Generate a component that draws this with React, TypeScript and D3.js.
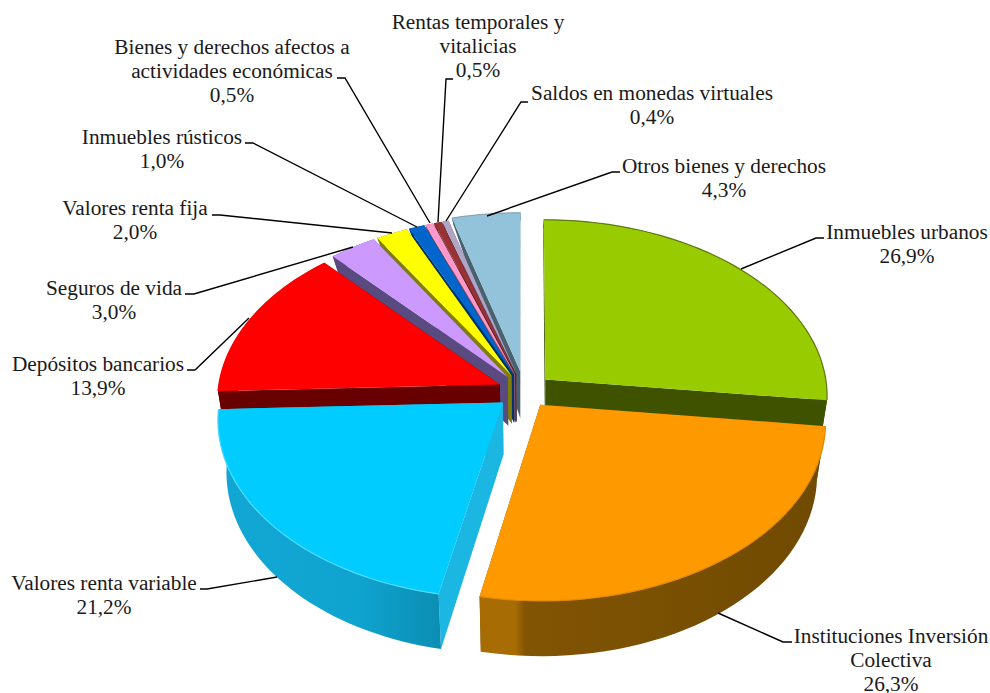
import React from "react";
import * as d3 from "d3";

const categories = [
  "Inmuebles urbanos", "Instituciones Inversión Colectiva", "Valores renta variable",
  "Depósitos bancarios", "Seguros de vida", "Valores renta fija", "Inmuebles rústicos",
  "Bienes y derechos afectos a actividades económicas", "Rentas temporales y vitalicias",
  "Saldos en monedas virtuales", "Otros bienes y derechos",
];
const values = [26.9, 26.3, 21.2, 13.9, 3.0, 2.0, 1.0, 0.5, 0.5, 0.4, 4.3];
const explode = [0.1, 0.095, 0.1, 0.095, 0.1, 0.1, 0.1, 0.1, 0.1, 0.1, 0.115];
const topColors = ["#99cc00", "#ff9900", "#00ccff", "#ff0000", "#cc99ff", "#ffff00", "#0066cc", "#ff99cc", "#993333", "#b0a4c8", "#93c3da"];
const wallColors = ["#3f5200", "#7a5000", "#1cb6e2", "#690000", "#594a80", "#7f7f08", "#00336b", "#80506a", "#4d1a1a", "#585268", "#48626e"];
const labelLines = [
  ["Inmuebles urbanos"], ["Instituciones Inversión", "Colectiva"], ["Valores renta variable"],
  ["Depósitos bancarios"], ["Seguros de vida"], ["Valores renta fija"], ["Inmuebles rústicos"],
  ["Bienes y derechos afectos a", "actividades económicas"], ["Rentas temporales y", "vitalicias"],
  ["Saldos en monedas virtuales"], ["Otros bienes y derechos"],
];

// layout
const W = 990, H = 693;
const CX = 524.5, CY = 391, RX = 282, RY = 176, K = 0.09, SHRINK = 0.972;
const labelPos: [number, number][] = [
  [907, 232], [891, 636], [104, 583], [98, 364], [114, 288], [135, 208], [162, 137], [232, 47], [478, 22], [652, 93], [724, 166],
];
const leaders: [number, number][][] = [
  [[824, 238], [816, 238], [741, 269]],
  [[792, 642], [783, 642], [718, 613]],
  [[200, 589], [207, 589], [277, 577]],
  [[187, 370], [195, 370], [249, 318]],
  [[185, 294], [194, 294], [353, 247]],
  [[212, 215], [220, 215], [392, 233]],
  [[245, 143], [253, 143], [417, 227]],
  [[337, 78], [345, 78], [430, 223]],
  [[453, 79], [446, 79], [438, 222]],
  [[528, 102], [521, 102], [446, 221]],
  [[620, 172], [612, 172], [487, 216]],
];

const fmt = (v: number) => v.toFixed(1).replace(".", ",") + "%";
const depth = (v: number) => (v < 0 ? Math.max(8, 52 + 44 * v) : 52 + 3 * v);
type P = [number, number];
const top = (u: number, v: number): P => {
  const s = 1 / (1 - K * v);
  return [CX + RX * u * s, CY + RY * v * s];
};
const bottom = (u: number, v: number): P => {
  const [x, y] = top(u, v);
  return [CX + (x - CX) * SHRINK, y + depth(v)];
};
const line = d3.line<P>();

const slices = d3.pie<number>().sort(null).value((d) => d)(values).map((a, i) => {
  const mid = (a.startAngle + a.endAngle) / 2;
  const ou = explode[i] * Math.sin(mid), ov = -explode[i] * Math.cos(mid);
  const steps = d3.range(0, 41).map((j) => a.startAngle + ((a.endAngle - a.startAngle) * j) / 40);
  const rim: P[] = steps.map((t) => [ou + Math.sin(t), ov - Math.cos(t)]);
  const tops = rim.map((p) => top(p[0], p[1]));
  const bots = rim.map((p) => bottom(p[0], p[1]));
  const at = top(ou, ov), ab = bottom(ou, ov);
  return {
    i, order: ov,
    surface: line([at, ...tops])! + "Z",
    arcWall: line([...tops, ...bots.slice().reverse()])! + "Z",
    wallA: line([at, tops[0], bots[0], ab])! + "Z",
    wallB: line([at, tops[40], bots[40], ab])! + "Z",
    edge: line(tops)!,
  };
});
const painter = slices.slice().sort((a, b) => a.order - b.order);
const arcFill: Record<number, string> = { 1: "url(#orangeArc)", 2: "url(#blueArc)" };
const rimStroke: Record<number, string> = { 0: "#5f7a10", 1: "#e08a00", 2: "#4fdcff", 3: "#ff0000", 10: "#8aa5b5" };

export default function App() {
  return (
    <svg width={W} height={H} viewBox={`0 0 ${W} ${H}`} style={{ position: "fixed", left: 0, top: 0, background: "#fff" }}>
      <defs>
        <linearGradient id="orangeArc" gradientUnits="userSpaceOnUse" x1="480" x2="830" y1="0" y2="0">
          <stop offset="0" stopColor="#a86c04" />
          <stop offset="0.1" stopColor="#a86c04" />
          <stop offset="0.13" stopColor="#825404" />
          <stop offset="1" stopColor="#6f4a00" />
        </linearGradient>
        <linearGradient id="blueArc" gradientUnits="userSpaceOnUse" x1="220" x2="445" y1="0" y2="0">
          <stop offset="0" stopColor="#12a6d4" />
          <stop offset="0.6" stopColor="#0fa4d0" />
          <stop offset="1" stopColor="#0b8db2" />
        </linearGradient>
      </defs>
      {painter.map((s) => (
        <g key={s.i}>
          <path d={s.wallA} fill={wallColors[s.i]} />
          <path d={s.wallB} fill={wallColors[s.i]} />
          <path d={s.arcWall} fill={arcFill[s.i] ?? wallColors[s.i]} />
          <path d={s.surface} fill={topColors[s.i]} />
          {rimStroke[s.i] && <path d={s.edge} fill="none" stroke={rimStroke[s.i]} strokeWidth={1.2} />}
        </g>
      ))}
      {leaders.map((l, i) => (
        <path key={i} d={line(l)!} fill="none" stroke="#000" strokeWidth={1.4} />
      ))}
      <g fontFamily="'Liberation Serif', serif" fontSize={21.3} fill="#1a1a1a" textAnchor="middle">
        {categories.map((c, i) => {
          const lines = [...labelLines[i], fmt(values[i])];
          return (
            <text key={c} dominantBaseline="central">
              {lines.map((t, j) => (
                <tspan key={j} x={labelPos[i][0]} y={labelPos[i][1] + j * 24.2}>{t}</tspan>
              ))}
            </text>
          );
        })}
      </g>
    </svg>
  );
}
